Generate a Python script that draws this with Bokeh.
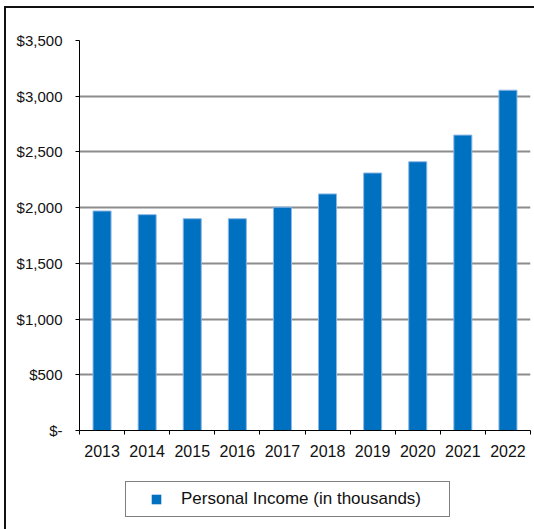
from bokeh.plotting import figure
from bokeh.layouts import column
from bokeh.models import (ColumnDataSource, Range1d, FixedTicker, NumeralTickFormatter,
                          Legend, LegendItem)
from bokeh.embed import file_html
from bokeh.resources import INLINE

years = ["2013", "2014", "2015", "2016", "2017", "2018", "2019", "2020", "2021", "2022"]
income = [1970, 1937, 1901, 1901, 2004, 2123, 2311, 2412, 2651, 3054]
y_ticks = [0, 500, 1000, 1500, 2000, 2500, 3000, 3500]
series_name = "Personal Income (in thousands)"

centers = [i + 0.5 for i in range(len(years))]
bounds = [float(i) for i in range(len(years) + 1)]
src = ColumnDataSource(data=dict(x=centers, top=income, year=years))

BAR_COLOR = "#0070C0"

p = figure(width=528, height=462, output_backend="svg", toolbar_location=None,
           x_range=Range1d(0, len(years)), y_range=Range1d(0, y_ticks[-1]),
           min_border_left=73, min_border_right=4, min_border_top=32, min_border_bottom=40)
p.outline_line_color = None
p.background_fill_color = "white"
p.border_fill_color = "white"

p.vbar(x="x", top="top", width=0.4, bottom=0, source=src,
       fill_color=BAR_COLOR, line_color="#8DB8E6", line_width=1)

# axes
xa = p.xaxis[0]
xa.ticker = FixedTicker(ticks=centers, minor_ticks=bounds)
xa.major_label_overrides = {c: y for c, y in zip(centers, years)}
xa.major_tick_out = 0
xa.major_tick_in = 0
xa.minor_tick_out = 4
xa.minor_tick_in = 0
xa.minor_tick_line_color = "#000000"
xa.axis_line_color = "#000000"
xa.major_label_text_font = "Liberation Sans"
xa.major_label_text_font_size = "16px"
xa.major_label_text_color = "#111111"
xa.major_label_standoff = 10

ya = p.yaxis[0]
ya.ticker = FixedTicker(ticks=y_ticks, minor_ticks=[])
ya.formatter = NumeralTickFormatter(format="$0,0")
ya.major_label_overrides = {0: "$-"}
ya.major_tick_out = 4
ya.major_tick_in = 0
ya.major_tick_line_color = "#000000"
ya.axis_line_color = "#000000"
ya.major_label_text_font = "Liberation Sans"
ya.major_label_text_font_size = "15px"
ya.major_label_text_color = "#111111"
ya.major_label_standoff = 13

p.xgrid.grid_line_color = None
p.ygrid.grid_line_color = "#8c8c8c"
p.ygrid.grid_line_width = 1.8
p.ygrid.ticker = FixedTicker(ticks=y_ticks)

# legend strip below the chart
p2 = figure(width=528, height=59, output_backend="svg", toolbar_location=None,
            x_range=Range1d(0, len(years)), y_range=Range1d(0, y_ticks[-1]),
            x_axis_type=None, y_axis_type=None,
            min_border_left=0, min_border_right=0, min_border_top=0, min_border_bottom=0)
p2.outline_line_color = None
p2.xgrid.grid_line_color = None
p2.ygrid.grid_line_color = None
p2.background_fill_color = "white"
p2.border_fill_color = "white"
marker = p2.scatter(x="x", y="top", source=src, marker="square", size=0,
                    fill_color=BAR_COLOR, line_color=None)

legend = Legend(items=[LegendItem(label=series_name, renderers=[marker])],
                location=(46, 12), orientation="vertical",
                glyph_width=50, glyph_height=24, label_standoff=0, label_width=263,
                padding=5, margin=0, spacing=0,
                border_line_color="#000000", border_line_width=1,
                background_fill_color="white", background_fill_alpha=1,
                label_text_font="Liberation Sans", label_text_font_size="17px",
                label_text_color="#111111")
p2.add_layout(legend, "center")

layout = column(p, p2, spacing=0)
layout.styles = {"border-left": "2px solid #111", "border-top": "2px solid #111",
                 "margin-left": "4px", "margin-top": "6px"}

open("out.html", "w").write(file_html(layout, INLINE))
